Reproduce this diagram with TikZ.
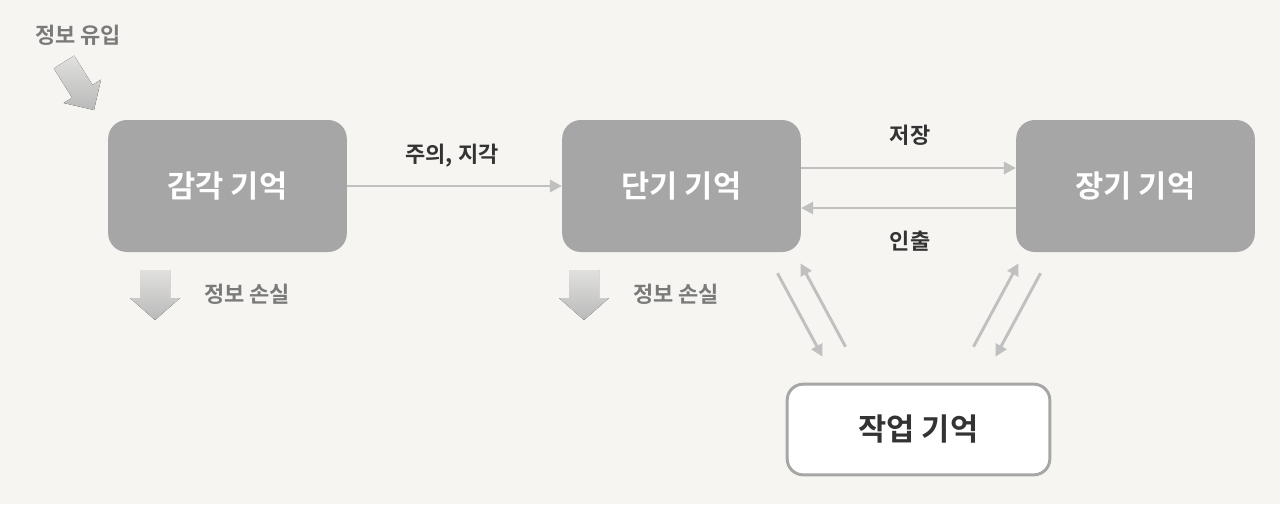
\documentclass[tikz,border=0pt]{standalone}
\usepackage{fontspec}
\setmainfont{Noto Sans CJK KR}[BoldFont={Noto Sans CJK KR Bold}]
\usetikzlibrary{calc,arrows.meta}
\definecolor{bg}{HTML}{F6F5F1}
\definecolor{boxc}{HTML}{A6A6A6}
\definecolor{lnc}{HTML}{C0C0C0}
\definecolor{lbl}{HTML}{7A7A7A}
\definecolor{dark}{HTML}{333333}
\begin{document}
\begin{tikzpicture}[x=0.75pt,y=-0.75pt,
  mem/.style={rounded corners=14pt,fill=boxc,text=white,minimum width=179pt,minimum height=99pt,font=\bfseries\fontsize{23}{26}\selectfont,inner sep=0},
  wm/.style={rounded corners=12pt,draw=boxc,line width=2.2pt,fill=white,text=dark,minimum width=197pt,minimum height=68pt,font=\bfseries\fontsize{23}{26}\selectfont,inner sep=0},
  conn/.style={lnc,line width=2.2pt,-{Triangle[length=9pt,width=9pt]}},
  gl/.style={text=lbl,font=\bfseries\fontsize{16.5}{20}\selectfont},
  dl/.style={text=dark,font=\bfseries\fontsize{16.5}{20}\selectfont},
  blk/.style={top color=bg!60!lnc,bottom color=lnc!90!gray}]
\fill[bg] (0,0) rectangle (1280,504);
\useasboundingbox (0,0) rectangle (1280,504);
\node[mem] (s) at (227.5,186) {감각 기억};
\node[mem] (t) at (681.5,186) {단기 기억};
\node[mem] (l) at (1135.5,186) {장기 기억};
\node[wm] (w) at (918.5,429.5) {작업 기억};
\node[gl] (in) at (78,35) {정보 유입};
\node[dl] (att) at (452,156) {주의, 지각};
\node[dl] (sto) at (910,135) {저장};
\node[dl] (ret) at (910,241) {인출};
\node[gl] (loss1) at (247,294) {정보 손실};
\node[gl] (loss2) at (676,294) {정보 손실};
\draw[conn] (s) -- (t);
\draw[conn] ($(t.east)+(0,-18)$) -- ($(l.west)+(0,-18)$);
\draw[conn] ($(l.west)+(0,22)$) -- ($(t.east)+(0,22)$);
\draw[conn] ($(t.south)+(96,21)$) -- ($(w.north)+(-96,-26)$);
\draw[conn] ($(w.north)+(-73,-36)$) -- ($(t.south)+(119,11)$);
\draw[conn] ($(w.north)+(55,-36)$) -- ($(l.south)+(-117,11)$);
\draw[conn] ($(l.south)+(-95,21)$) -- ($(w.north)+(77,-26)$);
\fill[blk] (140,270)--(170,270)--(170,298)--(180,298)--(155,320)--(130,298)--(140,298)--cycle;
\fill[blk] (569,270)--(599,270)--(599,298)--(609,298)--(584,320)--(559,298)--(569,298)--cycle;
\fill[blk] (74.2,55.6)--(92.5,84.9)--(101,79.6)--(94,110)--(63.6,103)--(72.1,97.7)--(53.8,68.4)--cycle;
\end{tikzpicture}
\end{document}
